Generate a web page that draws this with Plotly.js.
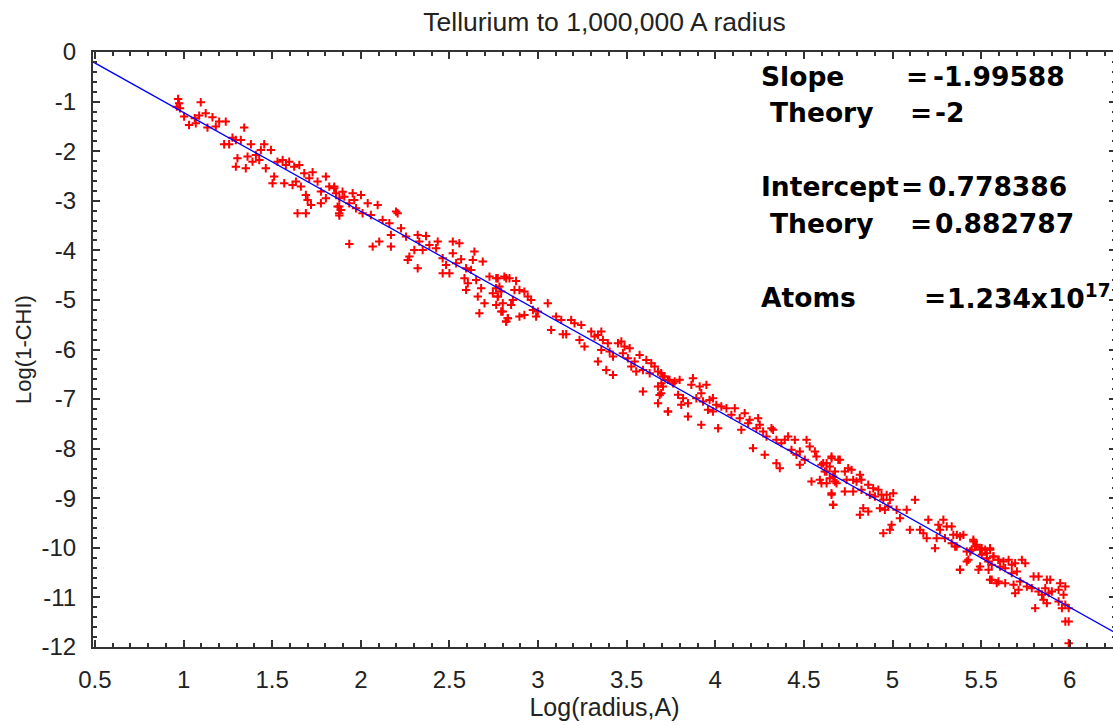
<!DOCTYPE html>
<html>
<head>
<meta charset="utf-8">
<script src="https://cdn.plot.ly/plotly-3.0.1.min.js"></script>
<style>
html,body{margin:0;padding:0;overflow:hidden;background:#fff;}
#chart{width:1116px;height:726px;}
</style>
</head>
<body>
<div id="chart"></div>
<script>
// ---- Data ----
const seg1X = [0.969,0.975,0.962,0.980,1.097,1.125,1.088,1.063,1.031,1.069,1.003,1.163,1.135,1.182,1.201,1.238,1.342,1.276,1.295,1.229,1.257,1.323,1.380,1.455,1.436,1.493,1.408,1.361,1.304,1.295,1.351,1.389,1.427,1.464,1.511,1.502,1.530,1.559,1.577,1.596,1.624,1.653,1.681,1.728,1.709,1.634,1.615,1.568,1.662,1.756,1.803,1.775,1.822,1.850,1.690,1.700,1.719,1.775,1.803,1.879,1.869,1.888,1.643,1.690,1.879];
const seg1Y = [-0.947,-1.035,-1.102,-1.135,-1.014,-1.236,-1.283,-1.337,-1.471,-1.438,-1.303,-1.317,-1.525,-1.505,-1.404,-1.404,-1.525,-1.727,-1.774,-1.861,-1.861,-1.774,-1.861,-1.861,-1.975,-1.975,-2.076,-2.110,-2.143,-2.312,-2.345,-2.211,-2.177,-2.345,-2.513,-2.647,-2.211,-2.177,-2.278,-2.211,-2.312,-2.278,-2.446,-2.426,-2.547,-2.614,-2.681,-2.647,-2.715,-2.614,-2.513,-2.815,-2.715,-2.748,-2.883,-2.984,-3.084,-3.051,-2.950,-2.950,-3.118,-3.185,-3.252,-3.252,-3.299];

const seg2X = [1.850,1.860,1.897,1.907,1.954,2.001,1.963,1.878,1.935,1.973,2.010,1.878,2.039,2.095,2.057,2.199,2.208,2.161,2.123,2.227,2.170,2.255,2.321,2.368,2.330,2.387,2.434,2.425,2.349,2.302,2.274,2.265,2.321,2.104,2.067,2.170,1.935,2.519,2.556,2.519,2.566,2.462,2.481,2.462,2.500,2.538,2.594,2.641,2.632,2.688,2.622,2.585,2.604,2.594,2.651,2.679,2.660,2.726,2.764,2.820,2.782,2.745,2.698,2.773,2.801,2.764,2.669,2.801,2.820,2.830];
const seg2Y = [-2.715,-2.849,-2.816,-2.917,-2.849,-2.883,-2.984,-3.118,-3.051,-3.152,-3.253,-3.253,-3.051,-3.085,-3.286,-3.219,-3.253,-3.454,-3.387,-3.555,-3.689,-3.723,-3.689,-3.710,-3.824,-3.891,-3.824,-3.958,-3.992,-3.992,-4.126,-4.193,-4.361,-3.824,-3.925,-3.925,-3.871,-3.824,-3.857,-4.059,-4.180,-4.160,-4.294,-4.462,-4.462,-4.261,-4.362,-4.026,-4.193,-4.227,-4.395,-4.563,-4.664,-4.798,-4.597,-4.765,-4.933,-4.530,-4.563,-4.563,-4.731,-4.866,-5.067,-4.933,-5.067,-5.101,-5.269,-5.235,-5.437,-5.370];

const seg3X = [2.773,2.810,2.839,2.876,2.763,2.792,2.773,2.867,2.895,2.923,2.942,2.961,2.858,2.848,2.792,2.829,2.820,2.895,2.923,2.971,2.999,2.989,3.055,3.102,3.131,3.074,3.140,3.159,3.187,3.206,3.244,3.234,3.262,3.300,3.319,3.338,3.357,3.366,3.394,3.357,3.404,3.423,3.338,3.385,3.423,3.451,3.470,3.488,3.517,3.479,3.507,3.526,3.545,3.573,3.554,3.592,3.611,3.639,3.658,3.630,3.677,3.705,3.733,3.762,3.696,3.677,3.592,3.686,3.677,3.733];
const seg3Y = [-4.563,-4.530,-4.563,-4.617,-4.765,-4.832,-4.933,-4.799,-4.799,-4.832,-4.933,-5.000,-5.000,-5.101,-5.235,-5.370,-5.437,-5.336,-5.303,-5.202,-5.236,-5.336,-5.067,-5.336,-5.403,-5.605,-5.692,-5.692,-5.403,-5.471,-5.504,-5.807,-5.941,-5.639,-5.740,-5.706,-5.639,-5.807,-5.874,-6.008,-6.042,-6.143,-6.243,-6.412,-6.512,-5.874,-5.840,-5.941,-5.975,-6.076,-6.176,-6.344,-6.243,-6.109,-6.445,-6.412,-6.210,-6.277,-6.344,-6.479,-6.445,-6.546,-6.613,-6.680,-6.680,-6.748,-6.848,-6.916,-7.084,-7.252];

const seg4X = [3.695,3.714,3.742,3.771,3.799,3.705,3.695,3.733,3.790,3.818,3.846,3.808,3.865,3.874,3.912,3.950,3.921,3.893,3.931,3.968,3.987,4.006,3.959,3.987,4.034,4.063,4.110,3.846,3.921,4.016,4.091,4.138,4.166,4.194,4.185,4.147,4.242,4.251,4.232,4.270,4.317,4.289,4.345,4.373,4.392,4.411,4.449,4.326,4.213,4.279,4.345,4.364,4.430,4.458,4.477,4.515,4.533,4.562,4.505,4.477,4.571,4.609,4.646,4.628,4.656,4.694,4.675,4.543,4.590,4.628,4.665,4.684,4.656,4.665];
const seg4Y = [-6.478,-6.545,-6.612,-6.646,-6.612,-6.747,-6.881,-7.251,-6.915,-6.982,-7.083,-7.116,-6.713,-6.579,-6.747,-6.713,-6.881,-6.982,-7.049,-7.016,-6.982,-7.116,-7.217,-7.251,-7.150,-7.184,-7.184,-7.352,-7.520,-7.587,-7.318,-7.385,-7.284,-7.419,-7.486,-7.620,-7.385,-7.520,-7.587,-7.654,-7.587,-7.755,-7.822,-7.889,-7.822,-7.755,-7.822,-7.620,-7.990,-8.124,-8.293,-8.393,-8.024,-8.124,-8.057,-7.822,-7.957,-8.057,-8.225,-8.326,-8.158,-8.293,-8.360,-8.461,-8.158,-8.225,-8.461,-8.662,-8.629,-8.696,-8.561,-8.696,-8.931,-9.133];

const seg5X = [4.599,4.628,4.656,4.703,4.618,4.599,4.646,4.675,4.656,4.731,4.750,4.769,4.741,4.778,4.797,4.816,4.825,4.778,4.731,4.665,4.825,4.863,4.891,4.920,4.872,4.901,4.938,4.967,5.004,4.985,4.948,4.976,4.957,4.929,5.023,5.042,4.835,4.863,4.816,4.995,4.985,4.948,5.080,5.127,5.098,5.155,5.174,5.193,5.202,5.259,5.287,5.306,5.268,5.249,5.240,5.296,5.343,5.381,5.334,5.362,5.419,5.456,5.475,5.447,5.503,5.550,5.532,5.569,5.598,5.541,5.428,5.381,5.494,5.550,5.588];
const seg5Y = [-8.326,-8.293,-8.192,-8.225,-8.461,-8.696,-8.595,-8.662,-8.897,-8.461,-8.393,-8.427,-8.629,-8.629,-8.662,-8.528,-8.629,-8.864,-8.864,-9.133,-8.830,-8.729,-8.797,-8.830,-8.931,-8.965,-8.931,-8.931,-8.897,-9.032,-9.032,-9.166,-9.233,-9.200,-9.233,-9.401,-9.200,-9.267,-9.334,-9.536,-9.637,-9.704,-9.233,-9.032,-9.637,-9.637,-9.704,-9.805,-9.435,-9.536,-9.435,-9.570,-9.637,-9.805,-10.006,-9.805,-9.738,-9.771,-9.906,-9.973,-10.074,-9.838,-9.939,-10.040,-10.006,-10.006,-10.107,-10.174,-10.241,-10.275,-10.241,-10.443,-10.376,-10.645,-10.712];

const seg6X = [5.334,5.363,5.400,5.353,5.381,5.419,5.438,5.457,5.466,5.494,5.485,5.523,5.504,5.551,5.532,5.570,5.560,5.542,5.598,5.626,5.655,5.607,5.636,5.673,5.692,5.730,5.749,5.702,5.673,5.560,5.598,5.636,5.683,5.720,5.711,5.692,5.758,5.796,5.824,5.786,5.824,5.805,5.843,5.871,5.890,5.862,5.881,5.852,5.871,5.899,5.937,5.946,5.975,5.965,5.937,5.975,5.994,5.956,5.975,5.994,5.994];
const seg6Y = [-9.570,-9.738,-9.738,-9.973,-10.443,-10.276,-10.074,-9.872,-9.973,-10.040,-10.443,-10.040,-10.141,-10.040,-10.208,-10.175,-10.343,-10.443,-10.242,-10.276,-10.242,-10.376,-10.410,-10.343,-10.309,-10.242,-10.309,-10.477,-10.511,-10.645,-10.679,-10.712,-10.746,-10.679,-10.847,-10.914,-10.780,-10.578,-10.578,-10.813,-10.880,-11.216,-10.947,-10.645,-10.645,-10.813,-10.914,-11.048,-11.116,-10.880,-10.847,-10.712,-10.780,-10.947,-11.082,-11.149,-11.216,-11.216,-11.485,-11.485,-11.922];

// fitted line end points (as drawn in the reference)
const fitX = [0.489, 6.261];
const fitY = [-0.20, -11.72];

const xTickVals = [0.5,1,1.5,2,2.5,3,3.5,4,4.5,5,5.5,6];
const xTickText = ['0.5','1','1.5','2','2.5','3','3.5','4','4.5','5','5.5','6'];
const yTickVals = [0,-1,-2,-3,-4,-5,-6,-7,-8,-9,-10,-11,-12];
const yTickText = ['0','-1','-2','-3','-4','-5','-6','-7','-8','-9','-10','-11','-12'];

const chartTitle = 'Tellurium to 1,000,000 A radius';
const xTitle = 'Log(radius,A)';
const yTitle = 'Log(1-CHI)';

const statLabels = ['Slope', 'Theory', 'Intercept', 'Theory', 'Atoms'];
const statValues = ['-1.99588', '-2', '0.778386', '0.882787', '1.234x10<sup>17</sup>'];

// ---- Build chart ----
const ptsX = [].concat(seg1X, seg2X, seg3X, seg4X, seg5X, seg6X);
const ptsY = [].concat(seg1Y, seg2Y, seg3Y, seg4Y, seg5Y, seg6Y);

const traces = [
  {x: ptsX, y: ptsY, type: 'scatter', mode: 'markers',
   marker: {symbol: 'cross-thin-open', size: 6, color: '#ff0000', line: {color: '#ff0000', width: 2}},
   hoverinfo: 'skip'},
  {x: fitX, y: fitY, type: 'scatter', mode: 'lines',
   line: {color: '#0000ff', width: 1.3}, hoverinfo: 'skip'}
];

const axisCommon = {
  showgrid: false, zeroline: false,
  showline: true, linecolor: '#333', linewidth: 2, mirror: 'allticks',
  ticks: 'inside', ticklen: 7, tickwidth: 2, tickcolor: '#333',
  tickfont: {family: 'Liberation Sans, Arial, sans-serif', size: 24, color: '#222'}
};

const pxX = p => (p - 93) / 1023;
const pxY = p => (647 - p) / 595;

const rowY   = [77, 113, 187, 223, 297];
const labelX = [759, 768, 759, 768, 759];
const eqX    = [904, 908, 899, 908, 922];
const valX   = [931, 933, 926, 933, 945];
const annFont = {family: 'DejaVu Sans, Arial, sans-serif', size: 26.5, color: '#000', weight: 'bold'};

const annotations = [];
for (let i = 0; i < statLabels.length; i++) {
  const base = {xref: 'paper', yref: 'paper', y: pxY(rowY[i]), xanchor: 'left', yanchor: 'middle',
                showarrow: false, font: annFont};
  annotations.push(Object.assign({}, base, {x: pxX(labelX[i]), text: '<b>' + statLabels[i] + '</b>'}));
  annotations.push(Object.assign({}, base, {x: pxX(eqX[i]), text: '<b>=</b>'}));
  annotations.push(Object.assign({}, base, {x: pxX(valX[i]), text: '<b>' + statValues[i] + '</b>'}));
}

const layout = {
  width: 1116, height: 726,
  margin: {l: 93, r: 0, t: 52, b: 79, pad: 0},
  paper_bgcolor: '#ffffff', plot_bgcolor: '#ffffff',
  showlegend: false,
  title: {text: chartTitle, x: 0.5, xref: 'paper', xanchor: 'center',
          y: 1 - 22 / 726, yref: 'container', yanchor: 'middle',
          font: {family: 'Liberation Sans, Arial, sans-serif', size: 26.5, color: '#222'}},
  xaxis: Object.assign({}, axisCommon, {
    range: [0.489, 6.261], tickmode: 'array', tickvals: xTickVals, ticktext: xTickText,
    ticklabelstandoff: 10,
    minor: {dtick: 0.1, tick0: 0, ticks: 'inside', ticklen: 4, tickwidth: 2, tickcolor: '#333', showgrid: false},
    title: {text: xTitle, standoff: 2, font: {family: 'Liberation Sans, Arial, sans-serif', size: 25, color: '#222'}}
  }),
  yaxis: Object.assign({}, axisCommon, {
    range: [-12, 0], tickmode: 'array', tickvals: yTickVals, ticktext: yTickText,
    ticklabelstandoff: 10,
    minor: {dtick: 0.2, tick0: 0, ticks: 'inside', ticklen: 4, tickwidth: 2, tickcolor: '#333', showgrid: false},
    title: {text: yTitle, standoff: 4, font: {family: 'Liberation Sans, Arial, sans-serif', size: 22, color: '#222'}}
  }),
  annotations: annotations
};

Plotly.newPlot('chart', traces, layout, {staticPlot: true, displayModeBar: false});
</script>
</body>
</html>
